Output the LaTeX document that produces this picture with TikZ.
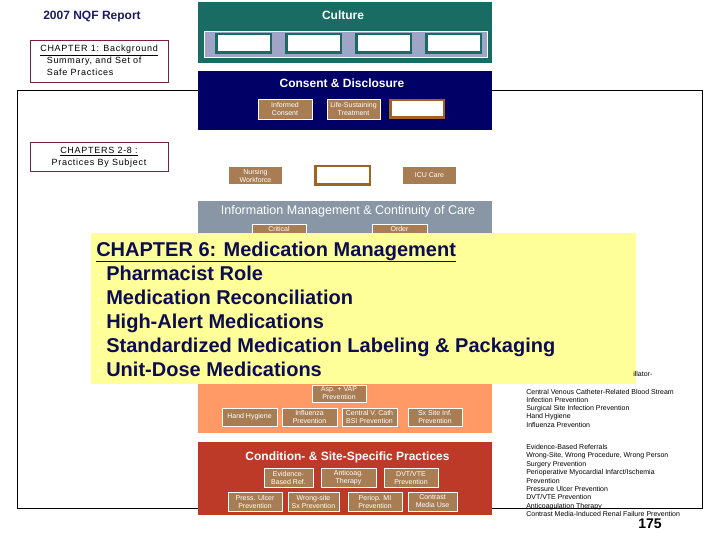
\documentclass[tikz,border=0pt]{standalone}
\usepackage{fontspec}
\setmainfont{Liberation Sans}
\newfontfamily\chapfont[LetterSpace=8]{Liberation Sans}
\definecolor{cultteal}{RGB}{24,108,100}
\definecolor{lavstrip}{RGB}{160,165,200}
\definecolor{consnavy}{RGB}{0,0,102}
\definecolor{boxbrown}{RGB}{168,125,84}
\definecolor{holbrown}{RGB}{160,100,30}
\definecolor{infogray}{RGB}{136,150,166}
\definecolor{medyellow}{RGB}{255,255,153}
\definecolor{bulyellow}{RGB}{255,255,205}
\definecolor{mednavy}{RGB}{12,12,80}
\definecolor{infsalmon}{RGB}{255,153,102}
\definecolor{condred}{RGB}{190,58,40}
\definecolor{chapred}{RGB}{122,31,61}
\definecolor{rptnavy}{RGB}{26,26,102}

\begin{document}
\begin{tikzpicture}[x=1pt,y=-1pt,line width=0.6pt,
  every node/.style={inner sep=0pt},
  pbox/.style={draw=white,fill=boxbrown,text=white,align=center,
    font=\fontsize{7}{8}\selectfont},
  hollow/.style={draw=holbrown,fill=white,line width=2.5pt},
  tbox/.style={draw=cultteal,fill=white,line width=2.5pt,
    minimum width=54.5,minimum height=18.5},
  chapbox/.style={draw=chapred,fill=white,line width=0.8pt},
  bandtitle/.style={anchor=base,text=white,font=\fontsize{12}{14}\selectfont\bfseries},
  chapline/.style={anchor=base west,font=\chapfont\fontsize{9}{11}\selectfont},
  medline/.style={anchor=base west,text=mednavy,font=\fontsize{20}{24}\selectfont\bfseries},
  sideline/.style={anchor=base west,font=\fontsize{7}{8.4}\selectfont}]
  \useasboundingbox (0,0) rectangle (720,540);
  \draw[line width=0.9pt] (17,90) rectangle (702,508);

  \node[anchor=base,text=rptnavy,font=\fontsize{12}{14}\selectfont\bfseries] (report) at (92,19.3) {2007 NQF Report};
  \node[chapbox,minimum width=138,minimum height=42] (ch1) at (99,61) {};
  \node[chapline] (ch1a) at (40,51.5) {\underline{CHAPTER 1: Background}};
  \node[chapline] (ch1b) at (46.5,64) {Summary, and Set of};
  \node[chapline] (ch1c) at (46.5,76) {Safe Practices};
  \node[chapbox,minimum width=138,minimum height=29] (ch2) at (99,156.5) {};
  \node[chapline,anchor=base] (ch2a) at (99,153.3) {\underline{CHAPTERS 2-8 :}};
  \node[chapline,anchor=base] (ch2b) at (99,165.3) {Practices By Subject};

  \fill[cultteal] (198,2) rectangle (492,63);
  \node[bandtitle] (culture) at (343,19.3) {Culture};
  \filldraw[fill=lavstrip,draw=white,line width=0.8pt] (204,31) rectangle (487,57);
  \foreach \cx [count=\i] in {243.5,313.5,383.5,453.5}
    \node[tbox] (cslot\i) at (\cx,43.5) {};

  \fill[consnavy] (198,71) rectangle (492,130);
  \node[bandtitle] (consent) at (342,87.6) {Consent \& Disclosure};
  \node[pbox,minimum width=54,minimum height=20] (infcons) at (285,109) {Informed\\Consent};
  \node[pbox,minimum width=53,minimum height=20] (lifesust) at (353.5,109) {Life-Sustaining\\Treatment};
  \node[hollow,minimum width=53.5,minimum height=17.5] (consslot) at (417,109) {};

  \node[pbox,draw=none,minimum width=53,minimum height=17] (nursing) at (255.5,175.5) {Nursing\\Workforce};
  \node[hollow,minimum width=54.5,minimum height=18.5] (wfslot) at (342.5,175.5) {};
  \node[pbox,draw=none,minimum width=53,minimum height=17] (icu) at (429.5,175.5) {ICU Care};

  \fill[infogray] (198,201) rectangle (492,240);
  \node[bandtitle,font=\fontsize{12.5}{14}\selectfont] (infomgmt) at (348,214.5) {Information Management \& Continuity of Care};
  \node[pbox,minimum width=54,minimum height=20,anchor=north] (critical) at (279,224) {Critical\\\strut};
  \node[pbox,minimum width=55,minimum height=20,anchor=north] (order) at (399.5,224) {Order\\\strut};

  \fill[infsalmon] (198,383) rectangle (492,433);
  \node[pbox,minimum width=54,minimum height=17] (aspvap) at (339,393.5) {Asp. + VAP\\Prevention};
  \node[pbox,minimum width=55,minimum height=18] (handhyg) at (249.5,417) {Hand Hygiene};
  \node[pbox,minimum width=55,minimum height=18] (influenza) at (309.5,417) {Influenza\\Prevention};
  \node[pbox,minimum width=55,minimum height=18] (cvcath) at (369.5,417) {Central V. Cath\\BSI Prevention};
  \node[pbox,minimum width=54,minimum height=18] (sxsite) at (435,417) {Sx Site Inf.\\Prevention};

  \fill[condred] (198,442) rectangle (492,515);
  \node[bandtitle] (condsite) at (347.5,460) {Condition- \& Site-Specific Practices};
  \node[pbox,minimum width=49,minimum height=19] (evref) at (288.5,477.5) {Evidence-\\Based Ref.};
  \node[pbox,minimum width=55,minimum height=19] (anticoag) at (348.5,477.5) {Anticoag.\\Therapy};
  \node[pbox,minimum width=54,minimum height=19] (dvtvte) at (411,477.5) {DVT/VTE\\Prevention};
  \node[pbox,minimum width=54,minimum height=19] (pressulc) at (255,501.5) {Press. Ulcer\\Prevention};
  \node[pbox,minimum width=51,minimum height=19] (wrongsite) at (313.5,501.5) {Wrong-site\\Sx Prevention};
  \node[pbox,minimum width=54,minimum height=19] (periop) at (375,501.5) {Periop. MI\\Prevention};
  \node[pbox,minimum width=49,minimum height=19] (contrast) at (432.5,501.5) {Contrast\\Media Use};

  \fill[medyellow] (91,233) rectangle (636,384);
  \node[medline] (medhead) at (96,256) {\underline{CHAPTER 6: Medication Management}};
  \foreach \medtext [count=\i] in {Pharmacist Role,Medication Reconciliation,High-Alert Medications,
      Standardized Medication Labeling \& Packaging,Unit-Dose Medications} {
    \node[anchor=base,text=bulyellow,font=\fontsize{10}{12}\selectfont] (bul\i) at (99,{254+24*\i}) {\textbullet};
    \node[medline] (med\i) at (106,{256+24*\i}) {\medtext};
  }

  \node[sideline] (ventcut) at (633,376.5) {illator-};
  \foreach \sidetext [count=\i] in {Central Venous Catheter-Related Blood Stream,Infection Prevention,
      Surgical Site Infection Prevention,Hand Hygiene,Influenza Prevention}
    \node[sideline] (inf\i) at (526,{394+8.25*(\i-1)}) {\sidetext};
  \foreach \sidetext [count=\i] in {Evidence-Based Referrals,{Wrong-Site, Wrong Procedure, Wrong Person},
      Surgery Prevention,Perioperative Myocardial Infarct/Ischemia,Prevention,Pressure Ulcer Prevention,
      DVT/VTE Prevention,Anticoagulation Therapy,Contrast Media-Induced Renal Failure Prevention}
    \node[sideline] (cond\i) at (526,{449.5+8.38*(\i-1)}) {\sidetext};
  \node[anchor=base,font=\fontsize{14}{16}\selectfont\bfseries] (pageno) at (650,528) {175};
\end{tikzpicture}
\end{document}
